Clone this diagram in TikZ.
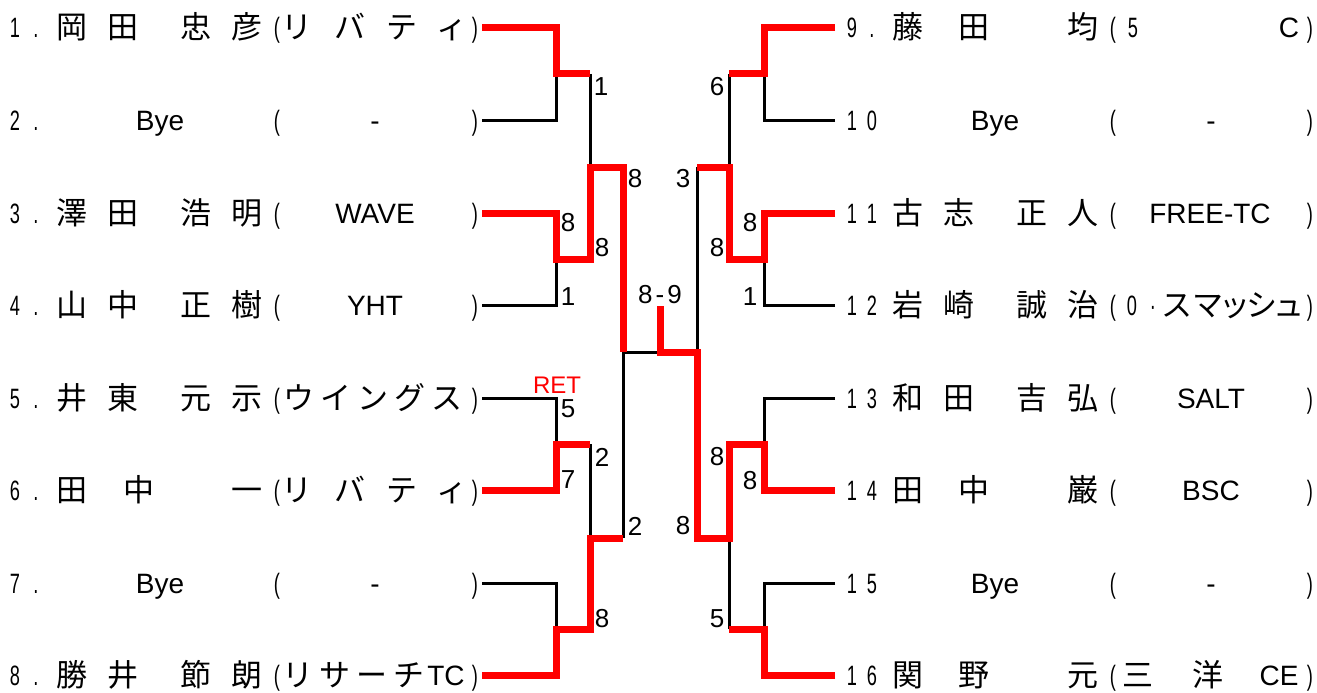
\documentclass[tikz,border=0pt]{standalone}
\usepackage{fontspec}
\usepackage{graphicx}
\setmainfont{Liberation Sans}
\newfontfamily\jpfont{Noto Sans CJK JP}
\newcounter{tc}
\tikzset{
  txt/.style={inner sep=0pt, outer sep=0pt, anchor=base},
  bl/.style={draw=black, line width=3pt},
  rd/.style={draw=red, line width=7pt},
  sc/.style={inner sep=0pt, outer sep=0pt, anchor=center, font=\fontsize{26}{26}\selectfont},
}
\newcommand\Cj[3]{\stepcounter{tc}\edef\tn{t\arabic{tc}}\node[txt] (\tn) at (#1,#2+11) {\fontsize{31}{31}\selectfont\jpfont #3};}
\newcommand\Lt[3]{\stepcounter{tc}\edef\tn{t\arabic{tc}}\node[txt] (\tn) at (#1,#2+10) {\fontsize{28}{28}\selectfont #3};}
\newcommand\Nr[3]{\stepcounter{tc}\edef\tn{t\arabic{tc}}\node[txt] (\tn) at (#1,#2+10) {\scalebox{0.65}[1]{\fontsize{28}{28}\selectfont #3}};}
\begin{document}
\begin{tikzpicture}[x=1pt,y=-1pt]
\useasboundingbox (0,0) rectangle (1317,693);
% player line ends
\foreach \i/\y in {1/28,2/120,3/213,4/305,5/398,6/490,7/583,8/675}{
  \coordinate (L\i) at (482,\y);
  \coordinate (R\i) at (835,\y);
}
% left joints
\coordinate (J1) at (556,74);  \coordinate (K1) at (590,74);
\coordinate (J2) at (556,259); \coordinate (K2) at (590,259);
\coordinate (J3) at (556,444); \coordinate (K3) at (590,444);
\coordinate (J4) at (556,629); \coordinate (K4) at (590,629);
\coordinate (M1) at (590,167); \coordinate (N1) at (623,167);
\coordinate (M2) at (590,538); \coordinate (N2) at (623,538);
\coordinate (S1) at (623,352);
% right joints
\coordinate (J5) at (764,74);  \coordinate (K5) at (729,74);
\coordinate (J6) at (764,259); \coordinate (K6) at (729,259);
\coordinate (J7) at (764,444); \coordinate (K7) at (729,444);
\coordinate (J8) at (764,629); \coordinate (K8) at (729,629);
\coordinate (M3) at (729,167); \coordinate (N3) at (697,167);
\coordinate (M4) at (729,538); \coordinate (N4) at (697,538);
\coordinate (S2) at (697,352);
\coordinate (F) at (660,352);
\coordinate (T) at (660,306);

% black lines
\draw[bl] (L2) -| (J1);
\draw[bl] (K1) -- (M1);
\draw[bl] (L4) -| (J2);
\draw[bl] (L5) -| (J3);
\draw[bl] (K3) -- (M2);
\draw[bl] (L7) -| (J4);
\draw[bl] (N2) -- (S1) -- (F);
\draw[bl] (R2) -| (J5);
\draw[bl] (K5) -- (M3);
\draw[bl] (R4) -| (J6);
\draw[bl] (N3) -- (S2);
\draw[bl] (R5) -| (J7);
\draw[bl] (R7) -| (J8);
\draw[bl] (K8) -- (M4);
% red lines
\draw[rd] (L1) -| (J1) -- (K1);
\draw[rd] (L3) -| (J2) -- (K2) -- (M1) -- (N1) -- (S1);
\draw[rd] (L6) -| (J3) -- (K3);
\draw[rd] (L8) -| (J4) -- (K4) -- (M2) -- (N2);
\draw[rd] (R1) -| (J5) -- (K5);
\draw[rd] (R3) -| (J6) -- (K6) -- (M3) -- (N3);
\draw[rd] (R6) -| (J7) -- (K7) -- (M4) -- (N4) -- (S2) -- (F) -- (T);
\draw[rd] (R8) -| (J8) -- (K8);

% scores
\node[sc] (s1) at (601,87) {1};
\node[sc] (s2) at (568,223) {8};
\node[sc] (s3) at (602,248) {8};
\node[sc] (s4) at (568,297) {1};
\node[sc] (s5) at (635,179) {8};
\node[sc,text=red,font=\fontsize{24}{24}\selectfont] (s6) at (557,385) {RET};
\node[sc] (s7) at (568,409) {5};
\node[sc] (s8) at (602,457) {2};
\node[sc] (s9) at (568,480) {7};
\node[sc] (s10) at (635,526) {2};
\node[sc] (s11) at (602,619) {8};
\node[sc] (s12) at (660,295) {8\kern3pt-\kern3pt9};
\node[sc] (s13) at (717,87) {6};
\node[sc] (s14) at (683,179) {3};
\node[sc] (s15) at (750,223) {8};
\node[sc] (s16) at (717,248) {8};
\node[sc] (s17) at (750,297) {1};
\node[sc] (s18) at (717,457) {8};
\node[sc] (s19) at (750,481) {8};
\node[sc] (s20) at (683,526) {8};
\node[sc] (s21) at (717,619) {5};

% ---------- left players ----------
% 1
\Nr{15}{28}{1}\Nr{36}{28}{.}
\Cj{72}{28}{岡}\Cj{123}{28}{田}\Cj{196}{28}{忠}\Cj{247}{28}{彦}
\Nr{277}{28}{(}\Cj{297}{28}{リ}\Cj{350}{28}{バ}\Cj{402}{28}{テ}\Cj{452}{28}{ィ}\Nr{475}{28}{)}
% 2
\Nr{15}{120}{2}\Nr{36}{120}{.}
\Lt{160}{120}{Bye}
\Nr{277}{120}{(}\Lt{375}{120}{-}\Nr{475}{120}{)}
% 3
\Nr{15}{213}{3}\Nr{36}{213}{.}
\Cj{72}{213}{澤}\Cj{123}{213}{田}\Cj{196}{213}{浩}\Cj{247}{213}{明}
\Nr{277}{213}{(}\Lt{375}{213}{WAVE}\Nr{475}{213}{)}
% 4
\Nr{15}{305}{4}\Nr{36}{305}{.}
\Cj{72}{305}{山}\Cj{123}{305}{中}\Cj{196}{305}{正}\Cj{247}{305}{樹}
\Nr{277}{305}{(}\Lt{375}{305}{YHT}\Nr{475}{305}{)}
% 5
\Nr{15}{398}{5}\Nr{36}{398}{.}
\Cj{72}{398}{井}\Cj{123}{398}{東}\Cj{196}{398}{元}\Cj{247}{398}{示}
\Nr{277}{398}{(}\Cj{299}{398}{ウ}\Cj{336}{398}{イ}\Cj{373}{398}{ン}\Cj{410}{398}{グ}\Cj{447}{398}{ス}\Nr{475}{398}{)}
% 6
\Nr{15}{490}{6}\Nr{36}{490}{.}
\Cj{72}{490}{田}\Cj{139}{490}{中}\Cj{247}{490}{一}
\Nr{277}{490}{(}\Cj{297}{490}{リ}\Cj{350}{490}{バ}\Cj{402}{490}{テ}\Cj{452}{490}{ィ}\Nr{475}{490}{)}
% 7
\Nr{15}{583}{7}\Nr{36}{583}{.}
\Lt{160}{583}{Bye}
\Nr{277}{583}{(}\Lt{375}{583}{-}\Nr{475}{583}{)}
% 8
\Nr{15}{675}{8}\Nr{36}{675}{.}
\Cj{72}{675}{勝}\Cj{123}{675}{井}\Cj{196}{675}{節}\Cj{247}{675}{朗}
\Nr{277}{675}{(}\Cj{298}{675}{リ}\Cj{335}{675}{サ}\Cj{372}{675}{ー}\Cj{409}{675}{チ}\Lt{446}{675}{TC}\Nr{475}{675}{)}

% ---------- right players ----------
% 9
\Nr{852}{28}{9}\Nr{872}{28}{.}
\Cj{908}{28}{藤}\Cj{974}{28}{田}\Cj{1083}{28}{均}
\Nr{1113}{28}{(}\Nr{1133}{28}{5}\Lt{1289}{28}{C}\Nr{1310}{28}{)}
% 10
\Nr{852}{120}{1}\Nr{872}{120}{0}
\Lt{995}{120}{Bye}
\Nr{1113}{120}{(}\Lt{1211}{120}{-}\Nr{1310}{120}{)}
% 11
\Nr{852}{213}{1}\Nr{872}{213}{1}
\Cj{908}{213}{古}\Cj{959}{213}{志}\Cj{1032}{213}{正}\Cj{1083}{213}{人}
\Nr{1113}{213}{(}\Lt{1210}{213}{FREE-TC}\Nr{1310}{213}{)}
% 12
\Nr{852}{305}{1}\Nr{872}{305}{2}
\Cj{908}{305}{岩}\Cj{959}{305}{崎}\Cj{1032}{305}{誠}\Cj{1083}{305}{治}
\Nr{1113}{305}{(}\Nr{1132}{305}{0}\Nr{1153}{305}{·}\Cj{1177}{305}{ス}\Cj{1208}{305}{マ}\Cj{1235}{305}{ッ}\Cj{1262}{305}{シ}\Cj{1289}{305}{ュ}\Nr{1310}{305}{)}
% 13
\Nr{852}{398}{1}\Nr{872}{398}{3}
\Cj{908}{398}{和}\Cj{959}{398}{田}\Cj{1032}{398}{吉}\Cj{1083}{398}{弘}
\Nr{1113}{398}{(}\Lt{1211}{398}{SALT}\Nr{1310}{398}{)}
% 14
\Nr{852}{490}{1}\Nr{872}{490}{4}
\Cj{908}{490}{田}\Cj{974}{490}{中}\Cj{1083}{490}{巌}
\Nr{1113}{490}{(}\Lt{1211}{490}{BSC}\Nr{1310}{490}{)}
% 15
\Nr{852}{583}{1}\Nr{872}{583}{5}
\Lt{995}{583}{Bye}
\Nr{1113}{583}{(}\Lt{1211}{583}{-}\Nr{1310}{583}{)}
% 16
\Nr{852}{675}{1}\Nr{872}{675}{6}
\Cj{908}{675}{関}\Cj{974}{675}{野}\Cj{1083}{675}{元}
\Nr{1113}{675}{(}\Cj{1138}{675}{三}\Cj{1208}{675}{洋}\Lt{1279}{675}{CE}\Nr{1310}{675}{)}
\end{tikzpicture}
\end{document}
